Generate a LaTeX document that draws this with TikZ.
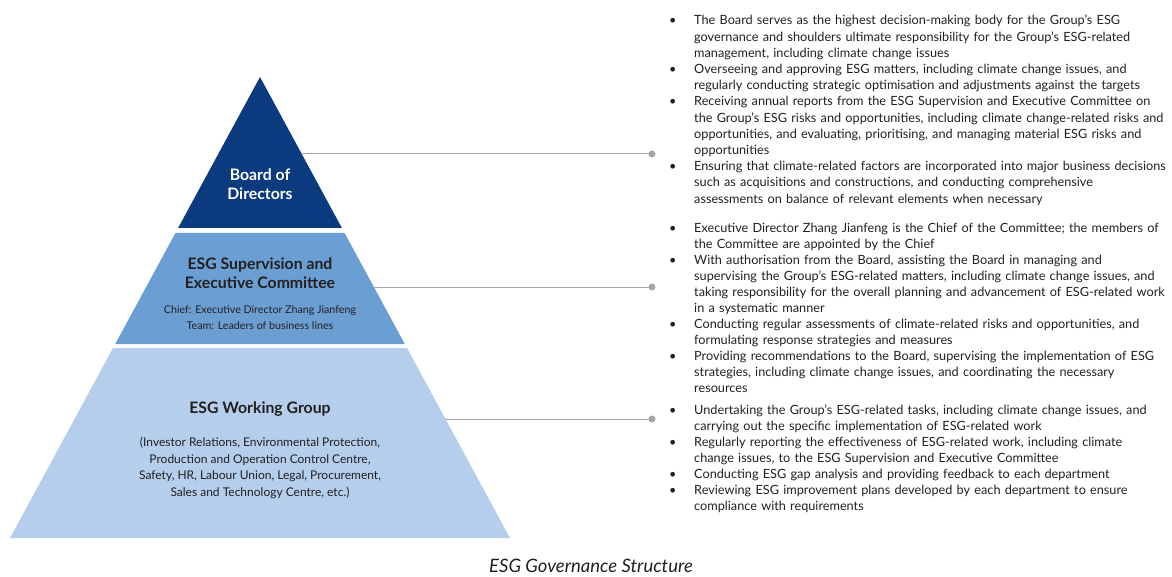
\documentclass[tikz,border=0pt]{standalone}
\usepackage{fontspec}
\setmainfont{Lato}

\definecolor{boardblue}{RGB}{11,59,126}
\definecolor{commblue}{RGB}{107,159,212}
\definecolor{groupblue}{RGB}{180,206,236}
\definecolor{inkgray}{RGB}{35,31,32}
\definecolor{linkgray}{RGB}{166,166,166}

% one bullet point with hanging indent
\newcommand{\duty}[1]{\hangindent=25pt\hangafter=1\noindent\hbox to 25pt{\textbullet\hfil}#1\par}

\begin{document}
\begin{tikzpicture}[x=1pt,y=-1pt,
    title/.style={font=\fontsize{15.8}{19.5}\selectfont\bfseries, align=center, inner sep=0pt},
    sub/.style={align=center, inner sep=0pt, text=inkgray},
    link/.style={draw=linkgray, line width=1pt},
    duties/.style={anchor=north west, text width=500pt, align=left, inner sep=0pt,
      font=\fontsize{12.7}{16}\selectfont, text=inkgray}]
  \useasboundingbox (0,0) rectangle (1172,577);

  % pyramid layers
  \fill[boardblue] (260,77) -- (341.9,228) -- (178.1,228) -- cycle;
  \fill[commblue] (175.4,233) -- (344.6,233) -- (404.8,344) -- (115.2,344) -- cycle;
  \fill[groupblue] (113,348) -- (407,348) -- (510,538) -- (10,538) -- cycle;

  \node[title, text=white] (board) at (260,184) {Board of\\Directors};
  \node[title, text=inkgray] (committee) at (260,273) {ESG Supervision and\\Executive Committee};
  \node[sub, font=\fontsize{10.7}{16}\selectfont] (committee-team) at (260,318) {Chief: Executive Director Zhang Jianfeng\\Team: Leaders of business lines};
  \node[title, text=inkgray] (group) at (260,409) {ESG Working Group};
  \node[sub, font=\fontsize{12}{16.8}\selectfont] (group-units) at (260,468) {(Investor Relations, Environmental Protection,\\Production and Operation Control Centre,\\Safety, HR, Labour Union, Legal, Procurement,\\Sales and Technology Centre, etc.)};

  % connectors from the right edge of each layer
  \coordinate (board-edge) at (302,154);
  \coordinate (committee-edge) at (373,287);
  \coordinate (group-edge) at (445,419);
  \coordinate (board-dot) at (652,154);
  \coordinate (committee-dot) at (652,287);
  \coordinate (group-dot) at (652,419);
  \foreach \n in {board,committee,group}{
    \draw[link] (\n-edge) -- (\n-dot);
    \fill[linkgray] (\n-dot) circle (3.5);
  }

  % duties of each layer
  \node[duties, font=\fontsize{12.7}{16.2}\selectfont] (board-duties) at (669,15) {%
    \duty{The Board serves as the highest decision-making body for the Group’s ESG\newline governance and shoulders ultimate responsibility for the Group’s ESG-related\newline management, including climate change issues}
    \duty{Overseeing and approving ESG matters, including climate change issues, and\newline regularly conducting strategic optimisation and adjustments against the targets}
    \duty{Receiving annual reports from the ESG Supervision and Executive Committee on\newline the Group’s ESG risks and opportunities, including climate change-related risks and\newline opportunities, and evaluating, prioritising, and managing material ESG risks and\newline opportunities}
    \duty{Ensuring that climate-related factors are incorporated into major business decisions\newline such as acquisitions and constructions, and conducting comprehensive\newline assessments on balance of relevant elements when necessary}};
  \node[duties] (committee-duties) at (669,223) {%
    \duty{Executive Director Zhang Jianfeng is the Chief of the Committee; the members of\newline the Committee are appointed by the Chief}
    \duty{With authorisation from the Board, assisting the Board in managing and\newline supervising the Group’s ESG-related matters, including climate change issues, and\newline taking responsibility for the overall planning and advancement of ESG-related work\newline in a systematic manner}
    \duty{Conducting regular assessments of climate-related risks and opportunities, and\newline formulating response strategies and measures}
    \duty{Providing recommendations to the Board, supervising the implementation of ESG\newline strategies, including climate change issues, and coordinating the necessary\newline resources}};
  \node[duties] (group-duties) at (669,405) {%
    \duty{Undertaking the Group’s ESG-related tasks, including climate change issues, and\newline carrying out the specific implementation of ESG-related work}
    \duty{Regularly reporting the effectiveness of ESG-related work, including climate\newline change issues, to the ESG Supervision and Executive Committee}
    \duty{Conducting ESG gap analysis and providing feedback to each department}
    \duty{Reviewing ESG improvement plans developed by each department to ensure\newline compliance with requirements}};

  \node[font=\fontsize{18.5}{22}\selectfont\itshape, text=inkgray] (caption) at (591,566) {ESG Governance Structure};
\end{tikzpicture}
\end{document}
